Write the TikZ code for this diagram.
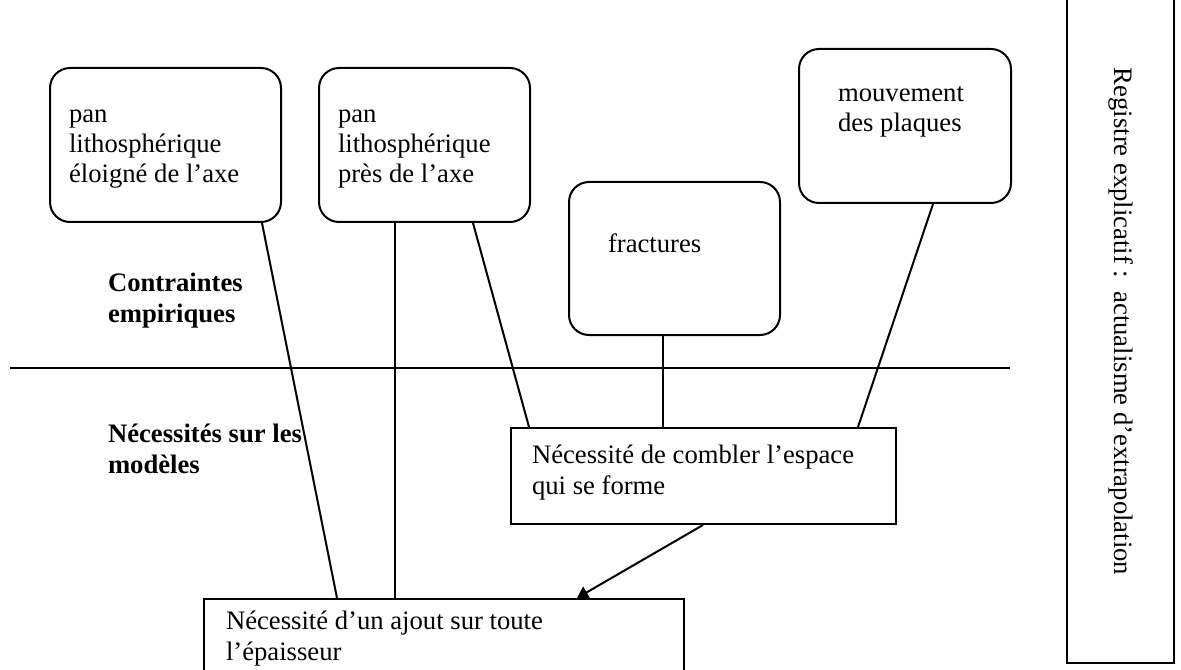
\documentclass[tikz,border=0pt]{standalone}
\usepackage{fontspec}
\setmainfont{Liberation Serif}
\usetikzlibrary{arrows.meta}
\usetikzlibrary{math}
\newcommand{\figfont}{\fontsize{12}{13.7}\selectfont}

\begin{document}
\begin{tikzpicture}[x=0.45pt, y=-0.45pt, line width=0.9pt, font=\figfont,
  bubble/.style={draw, rounded corners=9pt, anchor=north west, inner sep=0pt},
  reqbox/.style={draw, anchor=north west, inner sep=0pt},
  boxsize/.style 2 args={minimum width=#1*\pxu*1pt, minimum height=#2*\pxu*1pt},
  txt/.style={anchor=base west, align=left, inner sep=0pt},
  lvl/.style={txt, font=\figfont\bfseries}]
\tikzmath{
\pxu=0.45;
}
\useasboundingbox (0,0) rectangle (1181,670);
\clip (0,0) rectangle (1181,670);

% empirical boxes
\node[bubble, boxsize={231}{154}] (b1) at (49,67) {};
\node[bubble, boxsize={211}{154}] (b2) at (318,67) {};
\node[bubble, boxsize={211}{153}] (b3) at (568,181) {};
\node[bubble, boxsize={212}{154}] (b4) at (798,48) {};

% model boxes
\node[reqbox, boxsize={385}{96}] (c1) at (510,427) {};
\node[reqbox, boxsize={480}{120}] (a1) at (203,598) {};

% texts (base = last line)
\node[txt] (t1) at (68,183) {pan\\lithosphérique\\éloigné de l'axe};
\node[txt] (t2) at (337,183) {pan\\lithosphérique\\près de l'axe};
\node[txt] (t3) at (607,253) {fractures};
\node[txt] (t4) at (837,132) {mouvement\\des plaques};
\node[txt] (t5) at (531,494) {Nécessité de combler l'espace\\qui se forme};
\node[txt] (t6) at (225,660) {Nécessité d'un ajout sur toute\\l'épaisseur};

\node[lvl] (l1) at (107,322) {Contraintes\\empiriques};
\node[lvl] (l2) at (107,473) {Nécessités sur les\\modèles};

\coordinate (sepl) at (10,368);
\coordinate (sepr) at (1010,368);
\draw (sepl) -- (sepr);

\node[draw, rotate=-90, inner sep=0pt, minimum width=683*\pxu*1pt,
  minimum height=107*\pxu*1pt] (reg) at (1120.5,321.5)
  {Registre explicatif :\ \ actualisme d'extrapolation};

\draw ([shift={(-20,0)}]b1.south east) -- ([shift={(134,0)}]a1.north west);
\draw ([shift={(77,0)}]b2.south west) -- ([shift={(192,0)}]a1.north west);
\draw ([shift={(-58,0)}]b2.south east) -- ([shift={(19,0)}]c1.north west);
\draw ([shift={(95,0)}]b3.south west) -- ([shift={(153,0)}]c1.north west);
\draw ([shift={(135,0)}]b4.south west) -- ([shift={(-39,0)}]c1.north east);
\draw[-{Triangle[length=5pt,width=6pt]}] ([shift={(193,0)}]c1.south west) -- ([shift={(374,0)}]a1.north west);

\end{tikzpicture}
\end{document}
